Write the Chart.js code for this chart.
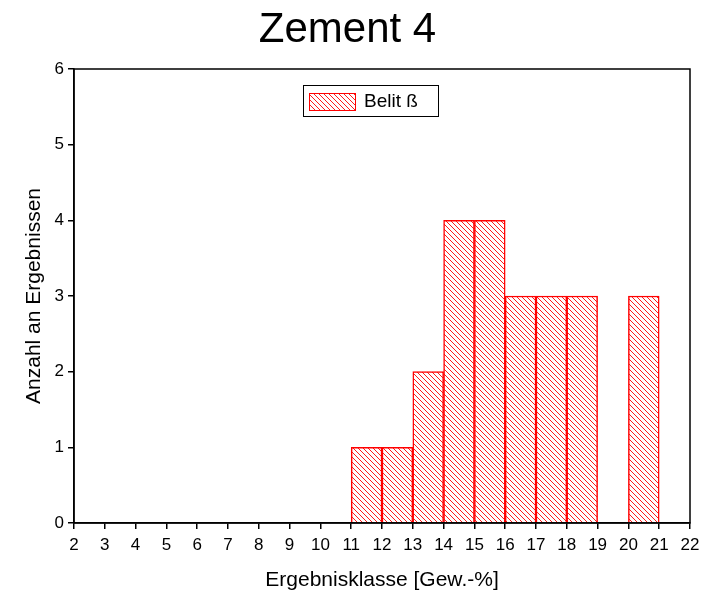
<!DOCTYPE html>
<html>
<head>
<meta charset="utf-8">
<script src="https://cdn.jsdelivr.net/npm/chart.js@4"></script>
<style>
  html, body { margin: 0; padding: 0; background: #fff; }
  #wrap { width: 715px; height: 597px; }
</style>
</head>
<body>
<div id="wrap"><canvas id="myChart" width="715" height="597"></canvas></div>
<script>
// histogram data: class start (Gew.-%) and number of results
var classStart = [11, 12, 13, 14, 15, 16, 17, 18, 19, 20];
var counts = [1, 1, 2, 4, 4, 3, 3, 3, 0, 3];
var seriesLabel = 'Belit \u00DF';
var xRange = [2, 22];
var yRange = [0, 6];

var FONT = 'Liberation Sans, Arial, sans-serif';

var makeHatch = function(){
    var s = 5;
    var c = document.createElement('canvas');
    c.width = s; c.height = s;
    var g = c.getContext('2d');
    g.fillStyle = '#fff';
    g.fillRect(0, 0, s, s);
    g.strokeStyle = '#ff0000';
    g.lineWidth = 0.9;
    g.beginPath();
    g.moveTo(0, 0); g.lineTo(s, s);
    g.moveTo(-1, s - 1); g.lineTo(1, s + 1);
    g.moveTo(s - 1, -1); g.lineTo(s + 1, 1);
    g.stroke();
    return document.getElementById('myChart').getContext('2d').createPattern(c, 'repeat');
};
var hatch = makeHatch();

var points = classStart.map(function(x, i){
    return { x: x + 0.5, y: counts[i] };
});

// frame around the plot + legend box inside it
var framePlugin = {
    id: 'frame',
    afterDraw: function(chart){
        var ctx = chart.ctx, a = chart.chartArea;
        ctx.save();
        ctx.strokeStyle = '#000';
        ctx.lineWidth = 1.5;
        ctx.strokeRect(a.left, a.top, a.right - a.left, a.bottom - a.top);

        // legend
        ctx.lineWidth = 1;
        ctx.strokeRect(303.5, 85.5, 135, 31);
        ctx.fillStyle = hatch;
        ctx.fillRect(309, 93, 47, 18);
        ctx.strokeStyle = '#ff0000';
        ctx.strokeRect(309.5, 93.5, 46, 17);
        ctx.fillStyle = '#000';
        ctx.font = '19px ' + FONT;
        ctx.textBaseline = 'middle';
        ctx.fillText(chart.data.datasets[0].label, 364, 102);
        ctx.restore();
    }
};

var ctx = document.getElementById('myChart');
var myChart = new Chart(ctx, {
    type: 'bar',
    data: {
        datasets: [{
            label: seriesLabel,
            data: points,
            backgroundColor: hatch,
            borderColor: '#ff0000',
            borderWidth: 1.5,
            barPercentage: 1,
            categoryPercentage: 1
        }]
    },
    options: {
        responsive: false,
        animation: false,
        layout: { padding: { left: 5, right: 25, top: 5, bottom: 0 } },
        plugins: {
            legend: { display: false },
            tooltip: { enabled: false },
            title: {
                display: true,
                text: 'Zement 4',
                color: '#000',
                font: { family: FONT, size: 42, weight: 'normal' },
                padding: { top: 0, bottom: 13.6 }
            }
        },
        scales: {
            x: {
                type: 'linear',
                min: xRange[0],
                max: xRange[1],
                offset: false,
                afterFit: function(s){ s.height = 74; },
                grid: { offset: false, drawOnChartArea: false, drawTicks: true, tickLength: 6, color: '#000', lineWidth: 1.5 },
                border: { display: true, color: '#000', width: 1.5 },
                ticks: { stepSize: 1, color: '#000', font: { family: FONT, size: 17 }, padding: 6, maxRotation: 0, autoSkip: false },
                title: { display: true, text: 'Ergebnisklasse [Gew.-%]', color: '#000', font: { family: FONT, size: 21 }, padding: { top: 0, bottom: 4 } }
            },
            y: {
                min: yRange[0],
                max: yRange[1],
                afterFit: function(s){ s.width = 69; },
                grid: { drawOnChartArea: false, drawTicks: true, tickLength: 6, color: '#000', lineWidth: 1.5 },
                border: { display: true, color: '#000', width: 1.5 },
                ticks: { stepSize: 1, color: '#000', font: { family: FONT, size: 17 }, padding: 4 },
                title: { display: true, text: 'Anzahl an Ergebnissen', color: '#000', font: { family: FONT, size: 21 }, padding: { top: 17, bottom: 0 } }
            }
        }
    },
    plugins: [framePlugin]
});
</script>
</body>
</html>
